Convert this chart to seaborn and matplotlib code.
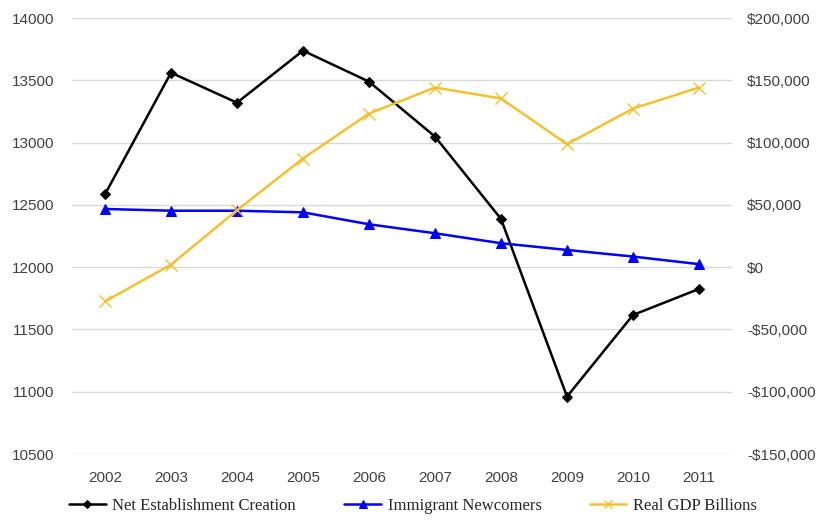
import pandas as pd
import numpy as np
import matplotlib
matplotlib.use("Agg")
import matplotlib.pyplot as plt
import seaborn as sns
from matplotlib.ticker import FuncFormatter

years = ['2002', '2003', '2004', '2005', '2006', '2007', '2008', '2009', '2010', '2011']
net_establishment = [12585, 13561, 13320, 13738, 13489, 13048, 12387, 10961, 11616, 11825]
immigrant_newcomers = [12467, 12453, 12453, 12440, 12344, 12272, 12192, 12138, 12085, 12024]
real_gdp = [-27500, 2000, 45700, 87200, 123300, 144200, 135400, 98700, 127300, 144200]

df = pd.DataFrame({'year': years,
                   'Net Establishment Creation': net_establishment,
                   'Immigrant Newcomers': immigrant_newcomers,
                   'Real GDP Billions': real_gdp})
df['x'] = np.arange(len(years))

sns.set_style('white')
plt.rcParams['font.family'] = ['Liberation Sans', 'DejaVu Sans']

fig = plt.figure(figsize=(8.26, 5.26), dpi=100)
ax = fig.add_axes([72/826, 1 - 454/526, (732-72)/826, (454-18)/526])
ax2 = ax.twinx()

sns.lineplot(data=df, x='x', y='Net Establishment Creation', ax=ax, color='black',
             marker='D', markersize=5, markeredgecolor='black', linewidth=1.8,
             label='Net Establishment Creation', legend=False)
sns.lineplot(data=df, x='x', y='Immigrant Newcomers', ax=ax, color='#0000FF',
             marker='^', markersize=7, markeredgecolor='#0000FF', linewidth=1.8,
             label='Immigrant Newcomers', legend=False)
sns.lineplot(data=df, x='x', y='Real GDP Billions', ax=ax2, color='#F2C12E',
             marker='x', markersize=8, markeredgewidth=1, markeredgecolor='#F2C12E',
             linewidth=1.8, label='Real GDP Billions', legend=False)

ax.set_xlim(-0.5, len(years) - 0.5)
ax.set_ylim(10500, 14000)
ax.set_yticks(np.arange(10500, 14001, 500))
ax2.set_ylim(-150000, 200000)
ax2.set_yticks(np.arange(-150000, 200001, 50000))
ax2.yaxis.set_major_formatter(FuncFormatter(lambda v, p: ('-$' if v < 0 else '$') + f'{abs(int(v)):,}'))

ax.set_xticks(df['x'])
ax.set_xticklabels(years)
ax.set_xlabel('')
ax.set_ylabel('')
ax2.set_ylabel('')
ax.grid(axis='y', color='#D9D9D9', linewidth=1)
ax.set_axisbelow(True)
for a in (ax, ax2):
    for s in a.spines.values():
        s.set_visible(False)
    a.tick_params(length=0, labelsize=11, colors='#404040')
ax.tick_params(axis='x', pad=12)
ax.tick_params(axis='y', pad=13)
ax2.tick_params(axis='y', pad=11)

handles = ax.get_lines()[:2] + ax2.get_lines()[:1]
labels = ['Net Establishment Creation', 'Immigrant Newcomers', 'Real GDP Billions']
fig.legend(handles, labels, loc='lower center', bbox_to_anchor=(0.5, -0.005), ncol=3,
           frameon=False, handlelength=2.2, handletextpad=0.4, columnspacing=2.9,
           markerscale=0.8, prop={'family': 'Liberation Serif', 'size': 12})

fig.savefig('out.png', dpi=100)
